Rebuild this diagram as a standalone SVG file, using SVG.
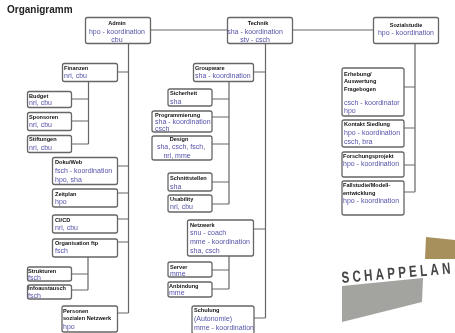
<svg xmlns="http://www.w3.org/2000/svg" width="455" height="333" viewBox="0 0 455 333">
<style>
text{font-family:"Liberation Sans",Arial,sans-serif}
.n{fill:#fff;stroke:#666;stroke-width:1.3}
.t{font-size:5.600px;font-weight:bold;fill:#111}
.s{font-size:7px;fill:#5552a8}
.m{text-anchor:middle}
.c{fill:none;stroke:#666;stroke-width:1.2}
</style>
<defs><filter id="b" x="0" y="0" width="100%" height="100%"><feGaussianBlur stdDeviation="0.35"/></filter></defs>
<rect width="455" height="333" fill="#fff"/>
<g filter="url(#b)">
<text x="7" y="13" font-size="10" font-weight="bold" fill="#222">Organigramm</text>
<g id="connectors" class="c">
<path d="M150 30H227M292 30H373"/>
<path d="M128.500 43V313M118 72H128.500M118 166H128.500M118 193H128.500M118 219H128.500M118 242H128.500M118 313H128.500"/>
<path d="M88.500 81V144M72 99H88.500M72 121H88.500M72 144H88.500M88 257V290M72 274H88M72 290H88"/>
<path d="M265.500 43V318M254 72H265.500M254 229H265.500M254 318H265.500"/>
<path d="M229 81V204M212 99H229M212 117H229M212 144H229M212 182H229M212 204H229M229 256V289M212 270H229M212 289H229"/>
<path d="M415 43V192M404 87H415M404 128H415M404 165H415M404 192H415"/>
</g>
<g id="admin"><rect class="n" x="85.500" y="17.500" width="65" height="26" rx="2"/><text class="t m" x="117" y="25">Admin</text><text class="s m" x="117" y="33.500">hpo - koordination</text><text class="s m" x="117" y="42">cbu</text></g>
<g id="finanzen"><rect class="n" x="62.500" y="63.500" width="55" height="18" rx="2"/><text class="t" x="64" y="70">Finanzen</text><text class="s" x="64" y="78">nri, cbu</text></g>
<g id="budget"><rect class="n" x="27.500" y="91.500" width="44" height="16" rx="2"/><text class="t" x="29" y="98">Budget</text><text class="s" x="29" y="105">nri, cbu</text></g>
<g id="sponsoren"><rect class="n" x="27.500" y="112.500" width="44" height="18" rx="2"/><text class="t" x="29" y="119">Sponsoren</text><text class="s" x="29" y="127">nri, cbu</text></g>
<g id="stiftungen"><rect class="n" x="27.500" y="135.500" width="44" height="17" rx="2"/><text class="t" x="29" y="141">Stiftungen</text><text class="s" x="29" y="150">nri, cbu</text></g>
<g id="doku"><rect class="n" x="52.500" y="157.500" width="65" height="27" rx="2"/><text class="t" x="55" y="164">Doku/Web</text><text class="s" x="55" y="173">fsch - koordination</text><text class="s" x="55" y="182">hpo, sha</text></g>
<g id="zeitplan"><rect class="n" x="52.500" y="189" width="65" height="18" rx="2"/><text class="t" x="55" y="196">Zeitplan</text><text class="s" x="55" y="204">hpo</text></g>
<g id="cicd"><rect class="n" x="52.500" y="215" width="65" height="18" rx="2"/><text class="t" x="55" y="222">CI/CD</text><text class="s" x="55" y="230">nri, cbu</text></g>
<g id="orgftp"><rect class="n" x="52.500" y="239" width="65" height="18" rx="2"/><text class="t" x="55" y="245">Organisation ftp</text><text class="s" x="55" y="253">fsch</text></g>
<g id="strukturen"><rect class="n" x="27.500" y="267" width="44" height="14" rx="2"/><text class="t" x="28" y="273">Strukturen</text><text class="s" x="28" y="280">fsch</text></g>
<g id="infoaustausch"><rect class="n" x="27.500" y="285" width="44" height="14" rx="2"/><text class="t" x="28" y="290">Infoaustausch</text><text class="s" x="28" y="297.500">fsch</text></g>
<g id="personen"><rect class="n" x="62" y="306" width="55.500" height="26" rx="2"/><text class="t" x="63" y="313">Personen</text><text class="t" x="63" y="320">sozialen Netzwerk</text><text class="s" x="63" y="329">hpo</text></g>
<g id="technik"><rect class="n" x="227.500" y="17.500" width="65" height="26" rx="2"/><text class="t m" x="258" y="25">Technik</text><text class="s m" x="255" y="33.500">sha - koordination</text><text class="s m" x="255" y="42">stv - csch</text></g>
<g id="groupware"><rect class="n" x="193.500" y="63.500" width="60" height="18" rx="2"/><text class="t" x="195" y="70">Groupware</text><text class="s" x="195" y="78">sha - koordination</text></g>
<g id="sicherheit"><rect class="n" x="168" y="89" width="44" height="17" rx="2"/><text class="t" x="170" y="95">Sicherheit</text><text class="s" x="170" y="103.500">sha</text></g>
<g id="programmierung"><rect class="n" x="152" y="111" width="60" height="21" rx="2"/><text class="t" x="155" y="117">Programmierung</text><text class="s" x="155" y="124">sha - koordination</text><text class="s" x="155" y="131">csch</text></g>
<g id="design"><rect class="n" x="152" y="136" width="60" height="24" rx="2"/><text class="t m" x="179" y="141">Design</text><text class="s m" x="181" y="149">sha, csch, fsch,</text><text class="s m" x="177" y="158">nri, mme</text></g>
<g id="schnittstellen"><rect class="n" x="168" y="173" width="44" height="18" rx="2"/><text class="t" x="170" y="180">Schnittstellen</text><text class="s" x="170" y="189">sha</text></g>
<g id="usability"><rect class="n" x="168" y="195" width="44" height="17" rx="2"/><text class="t" x="170" y="201">Usability</text><text class="s" x="170" y="209">nri, cbu</text></g>
<g id="netzwerk"><rect class="n" x="187.500" y="220" width="66" height="36" rx="2"/><text class="t" x="190" y="227">Netzwerk</text><text class="s" x="190" y="235">snu - coach</text><text class="s" x="190" y="244">mme - koordination</text><text class="s" x="190" y="253">sha, csch</text></g>
<g id="server"><rect class="n" x="168" y="262" width="44" height="15" rx="2"/><text class="t" x="170" y="269">Server</text><text class="s" x="170" y="276">mme</text></g>
<g id="anbindung"><rect class="n" x="168" y="282" width="44" height="15" rx="2"/><text class="t" x="169" y="288">Anbindung</text><text class="s" x="169" y="295">mme</text></g>
<g id="schulung"><rect class="n" x="192" y="306" width="62" height="28" rx="2"/><text class="t" x="194" y="312">Schulung</text><text class="s" x="194" y="321">(Autonomie)</text><text class="s" x="194" y="330">mme - koordination</text></g>
<g id="sozialstudie"><rect class="n" x="373.500" y="17.500" width="65" height="26" rx="2"/><text class="t m" x="406" y="26.500">Sozialstudie</text><text class="s m" x="406" y="34.500">hpo - koordination</text></g>
<g id="erhebung"><rect class="n" x="342" y="68" width="62" height="48" rx="2"/><text class="t" x="344" y="76">Erhebung/</text><text class="t" x="344" y="83">Auswertung</text><text class="t" x="344" y="90.500">Fragebogen</text><text class="s" x="344" y="105">csch - koordinator</text><text class="s" x="344" y="113">hpo</text></g>
<g id="kontakt"><rect class="n" x="342" y="120" width="62" height="27" rx="2"/><text class="t" x="344" y="126">Kontakt Siedlung</text><text class="s" x="344" y="135">hpo - koordination</text><text class="s" x="344" y="144">csch, bra</text></g>
<g id="forschung"><rect class="n" x="342" y="152" width="62" height="25" rx="2"/><text class="t" x="343" y="158">Forschungsprojekt</text><text class="s" x="343" y="165.500">hpo - koordination</text></g>
<g id="fallstudie"><rect class="n" x="342" y="181" width="62" height="34" rx="2"/><text class="t" x="343" y="187">Fallstudie/Modell-</text><text class="t" x="343" y="194.500">entwicklung</text><text class="s" x="343" y="203">hpo - koordination</text></g>
<polygon points="426,237 455,240 455,259 425,259" fill="#a8905c"/>
<polygon points="342,286 423,278 422,302 342,322" fill="#a3a3a0"/>
<text transform="translate(342 283) rotate(-5) scale(.72 1)" font-size="16" font-weight="bold" fill="#444" letter-spacing="4.600">SCHAPPELAN</text>
</g>
</svg>
